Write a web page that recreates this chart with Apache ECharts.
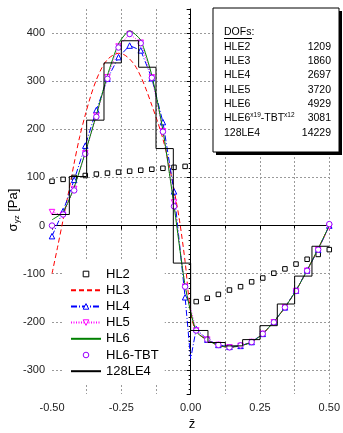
<!DOCTYPE html>
<html>
<head>
<meta charset="utf-8">
<script src="https://cdn.jsdelivr.net/npm/echarts@6/dist/echarts.min.js"></script>
<style>
html, body { margin: 0; padding: 0; background: #fff; }
#chart { width: 343px; height: 433px; }
</style>
</head>
<body>
<div id="chart"></div>
<script>
// through-thickness coordinate of the sampled points
var zPts = [-0.50, -0.46, -0.42, -0.38, -0.34, -0.30, -0.26, -0.22, -0.18, -0.14, -0.10, -0.06, -0.02,
            0.02, 0.06, 0.10, 0.14, 0.18, 0.22, 0.26, 0.30, 0.34, 0.38, 0.42, 0.46, 0.50];
var hl2 = [92, 96, 100, 104, 107, 109, 111, 113, 115, 117, 119, 121, 123,
           -158, -151, -143, -134, -127, -117, -109, -99, -90, -80, -70, -60, -50];
var hl5 = [28, 22, 76, 150, 228, 308, 372, 398, 380, 308, 196, 48, -127,
           -218, -237, -248, -253, -250, -242, -225, -201, -170, -136, -94, -50, -3];
var hl6 = [12, 28, 80, 152, 230, 312, 378, 405, 385, 312, 198, 42, -125,
           -220, -238, -249, -253, -250, -242, -225, -200, -170, -135, -93, -48, 0];
var hl6tbt = [0, 23, 73, 149, 226, 305, 370, 398, 379, 307, 195, 40, -127,
              -218, -237, -248, -253, -249, -242, -225, -201, -170, -136, -94, -50, 3];

var zHL4 = [-0.50, -0.46, -0.42, -0.38, -0.34, -0.30, -0.26, -0.22, -0.18, -0.14, -0.10, -0.06, -0.02, 0.00,
            0.02, 0.06, 0.10, 0.14, 0.18, 0.22, 0.26, 0.30, 0.34, 0.38, 0.42, 0.46, 0.50];
var hl4 = [-22, 30, 95, 166, 240, 305, 350, 374, 364, 306, 215, 71, -149, -277,
           -215, -237, -248, -252, -250, -242, -225, -200, -170, -135, -93, -50, 0];

var zHL3 = [-0.50, -0.48, -0.46, -0.44, -0.42, -0.40, -0.38, -0.36, -0.34, -0.32, -0.30, -0.28, -0.26,
            -0.24, -0.22, -0.20, -0.18, -0.16, -0.14, -0.12, -0.10, -0.08, -0.06, -0.04, -0.02, 0.00,
            0.02, 0.06, 0.10, 0.14, 0.18, 0.22, 0.26, 0.30, 0.34, 0.38, 0.42, 0.46, 0.50];
var hl3 = [-100, -45, 12, 70, 130, 185, 230, 270, 303, 328, 345, 354, 358,
           355, 346, 332, 310, 282, 250, 217, 180, 132, 75, 10, -75, -180,
           -220, -238, -249, -253, -250, -242, -225, -200, -170, -135, -93, -48, 0];

// 128LE4: piecewise constant values
var le4Edges = [-0.5, -0.4375, -0.375, -0.3125, -0.25, -0.1875, -0.125, -0.0625, 0,
                0.0625, 0.125, 0.1875, 0.25, 0.3125, 0.375, 0.4375, 0.5];
var le4 = [23, 102, 219, 338, 384, 329, 160, -78, -218, -243, -250, -237, -208, -163, -105, -43];

// DOFs box
var dofNames = ['HLE2', 'HLE3', 'HLE4', 'HLE5', 'HLE6', 'HLE6{sup|x19}-TBT{sup|x12}', '128LE4'];
var dofValues = ['1209', '1860', '2697', '3720', '4929', '3081', '14229'];

function pairs(xs, ys) {
    return xs.map(function (x, i) { return [x, ys[i]]; });
}

var stepData = [];
le4.forEach(function (v, i) {
    stepData.push([le4Edges[i], v], [le4Edges[i + 1], v]);
});

var hl4Data = pairs(zHL4, hl4).map(function (p) {
    return p[0] === 0 ? { value: p, symbol: 'none' } : p;
});

var FONT = 'Liberation Sans, Arial, sans-serif';

var dom = document.getElementById('chart');
var myChart = echarts.init(dom, null, { renderer: 'canvas' });

var graphics = [
    { type: 'rect', shape: { x: 216, y: 11, width: 126, height: 144 }, style: { fill: '#000' }, z: 100 },
    { type: 'rect', shape: { x: 213, y: 8, width: 126, height: 144 }, style: { fill: '#fff', stroke: '#000', lineWidth: 1 }, z: 101 },
    { type: 'text', x: 224, y: 32, z: 102,
      style: { text: 'DOFs:', font: '10.5px ' + FONT, fill: '#000', verticalAlign: 'middle' } },
    { type: 'line', shape: { x1: 224, y1: 38.5, x2: 252, y2: 38.5 }, style: { stroke: '#000', lineWidth: 1 }, z: 102 },
    // axis names
    { type: 'text', x: 13, y: 210, rotation: Math.PI / 2, z: 50,
      style: { text: '{a|σ}{b|yz}{a| [Pa]}', align: 'center', verticalAlign: 'middle', fill: '#000',
               rich: { a: { fontSize: 13, fontFamily: FONT, fill: '#000', lineHeight: 16 },
                       b: { fontSize: 8, fontFamily: FONT, fill: '#000', verticalAlign: 'bottom', lineHeight: 16 } } } },
    { type: 'text', x: 192, y: 424, z: 50,
      style: { text: 'z\u0304', font: '13px ' + FONT, fill: '#000', align: 'center', verticalAlign: 'middle' } }
];
dofNames.forEach(function (n, i) {
    var y = 46.7 + i * 14.35;
    graphics.push({ type: 'text', x: 224, y: y, z: 102,
        style: { text: n, font: '10.5px ' + FONT, fill: '#000', verticalAlign: 'middle',
                 rich: { sup: { fontSize: 6.5, fontFamily: FONT, fill: '#000', verticalAlign: 'top', lineHeight: 13 } } } });
    graphics.push({ type: 'text', x: 331, y: y, z: 102,
        style: { text: dofValues[i], font: '10.5px ' + FONT, fill: '#000', align: 'right', verticalAlign: 'middle' } });
});

var dashed = { lineStyle: { color: '#9a9a9a', type: [2, 2], width: 1 } };

function hollow(c) {
    return { color: '#fff', borderColor: c, borderWidth: 1 };
}

var option = {
    animation: false,
    backgroundColor: '#fff',
    grid: { left: 52, right: 12, top: 9, bottom: 39 },
    legend: {
        orient: 'vertical',
        left: 63,
        top: 261,
        padding: [6, 6, 6, 7],
        backgroundColor: '#fff',
        itemWidth: 30,
        itemHeight: 7,
        itemGap: 2.2,
        itemStyle: { color: '#fff', borderWidth: 1 },
        textStyle: { fontSize: 13, fontFamily: FONT, color: '#000', lineHeight: 14, padding: [0, 0, 0, 0] },
        data: ['HL2', 'HL3', 'HL4', 'HL5', 'HL6', 'HL6-TBT', '128LE4'],
        z: 60
    },
    xAxis: {
        type: 'value',
        min: -0.5,
        max: 0.5,
        interval: 0.25,
        axisLine: { lineStyle: { color: '#000', width: 1 } },
        axisTick: { show: true, length: 4, lineStyle: { color: '#000' } },
        minorTick: { show: true, splitNumber: 2, length: 3, lineStyle: { color: '#000' } },
        axisLabel: { fontSize: 11, fontFamily: FONT, color: '#222', margin: 8,
                     formatter: function (v) { return v.toFixed(2); } },
        splitLine: { show: true, lineStyle: dashed.lineStyle, showMinLine: false },
        minorSplitLine: { show: true, lineStyle: dashed.lineStyle }
    },
    yAxis: {
        type: 'value',
        min: -350,
        max: 450,
        splitNumber: 8,
        axisLine: { show: true, lineStyle: { color: '#000', width: 1 } },
        axisTick: { show: true, length: 4, lineStyle: { color: '#000' } },
        minorTick: { show: true, splitNumber: 10, length: 2, lineStyle: { color: '#000' } },
        axisLabel: { fontSize: 11, fontFamily: FONT, color: '#222', margin: 7,
                     showMinLabel: false, showMaxLabel: false },
        splitLine: { show: true, lineStyle: dashed.lineStyle, showMinLine: false, showMaxLine: false }
    },
    graphic: graphics,
    series: [
        {
            name: 'HL2', type: 'line', data: pairs(zPts, hl2),
            symbol: 'rect', symbolSize: 4.5, showAllSymbol: true,
            lineStyle: { opacity: 0, width: 0 },
            itemStyle: hollow('#000'), z: 3
        },
        {
            name: 'HL3', type: 'line', data: pairs(zHL3, hl3), symbol: 'none', smooth: 0.3,
            lineStyle: { color: '#ff0000', width: 1, type: [5, 3] },
            itemStyle: { color: '#ff0000', opacity: 0 }, z: 3
        },
        {
            name: 'HL4', type: 'line', data: hl4Data,
            symbol: 'triangle', symbolSize: 5.5, showAllSymbol: true,
            lineStyle: { color: '#0000ff', width: 1, type: [6, 2, 1, 2] },
            itemStyle: hollow('#0000ff'), z: 4
        },
        {
            name: 'HL5', type: 'line', data: pairs(zPts, hl5),
            symbol: 'triangle', symbolRotate: 180, symbolSize: 5.5, showAllSymbol: true,
            lineStyle: { color: '#ff00ff', width: 1, type: [1, 1.5] },
            itemStyle: hollow('#ff00ff'), z: 4
        },
        {
            name: 'HL6', type: 'line', data: pairs(zPts, hl6), symbol: 'none', smooth: 0.2,
            lineStyle: { color: '#008000', width: 1 },
            itemStyle: { color: '#008000', opacity: 0 }, z: 5
        },
        {
            name: 'HL6-TBT', type: 'line', data: pairs(zPts, hl6tbt),
            symbol: 'circle', symbolSize: 5.5, showAllSymbol: true,
            lineStyle: { opacity: 0, width: 0 },
            itemStyle: hollow('#9900ff'), z: 6
        },
        {
            name: '128LE4', type: 'line', data: stepData, symbol: 'none',
            lineStyle: { color: '#000', width: 1 },
            itemStyle: { color: '#000', opacity: 0 }, z: 7
        }
    ]
};

if (option && typeof option === 'object') {
    myChart.setOption(option, true);
}
</script>
</body>
</html>
